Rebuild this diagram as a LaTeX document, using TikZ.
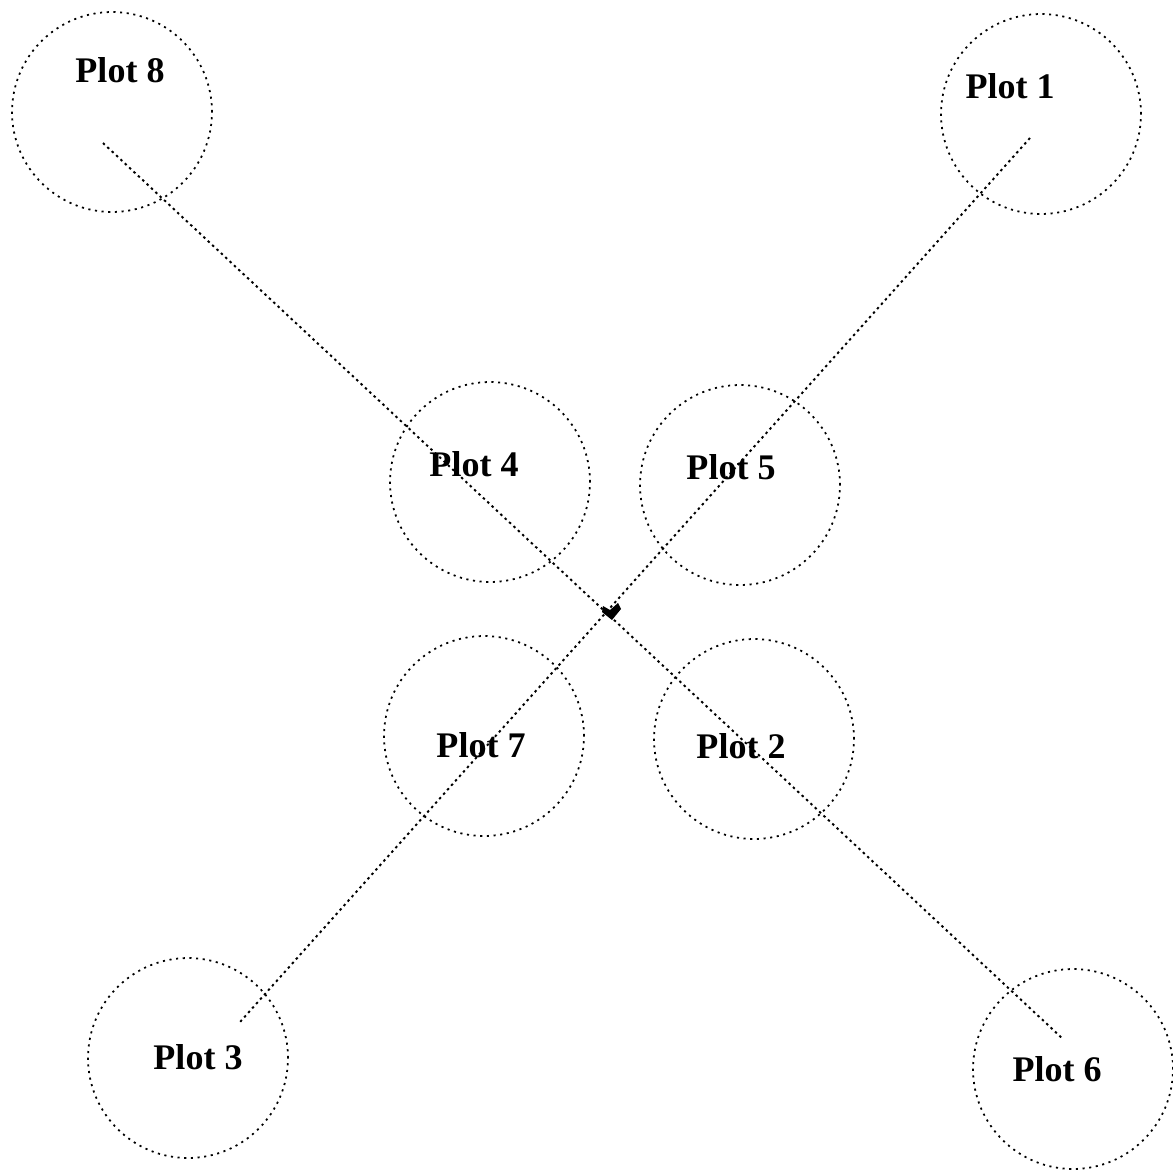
\documentclass[tikz,border=0pt]{standalone}
\usepackage{fontspec}
\setmainfont{Liberation Serif}

\begin{document}
\begin{tikzpicture}[x=0.02cm, y=-0.02cm,
    plot/.style={draw, circle, line width=1pt, dash pattern=on 1.2pt off 2.6pt, minimum size=4cm, inner sep=0pt},
    tag/.style={font=\fontsize{20.5}{24}\selectfont\bfseries, inner sep=0pt},
    transect/.style={line width=1.1pt, dash pattern=on 1.4pt off 2pt}]
    \useasboundingbox (0,0) rectangle (1173,1170);

    % Outer plots at the four ends
    \node[plot] (p8) at (112,112) {};
    \node[plot] (p1) at (1041,114) {};
    \node[plot] (p3) at (188,1058) {};
    \node[plot] (p6) at (1073,1069) {};

    % Inner plots round the centre
    \node[plot] (p4) at (490,482) {};
    \node[plot] (p5) at (740,485) {};
    \node[plot] (p7) at (484,736) {};
    \node[plot] (p2) at (754,739) {};

    % Plot labels
    \node[tag] (l8) at (120,70) {Plot 8};
    \node[tag] (l1) at (1010,86) {Plot 1};
    \node[tag] (l3) at (198,1057) {Plot 3};
    \node[tag] (l6) at (1057,1069) {Plot 6};
    \node[tag] (l4) at (474,464) {Plot 4};
    \node[tag] (l5) at (731,467) {Plot 5};
    \node[tag] (l7) at (481,745) {Plot 7};
    \node[tag] (l2) at (741,746) {Plot 2};

    % Transect ends
    \coordinate (e8) at (103,143);
    \coordinate (e6) at (1063,1039);
    \coordinate (e1) at (1030,138);
    \coordinate (e3) at (240,1022);

    % Transects
    \draw[transect] (e8) -- (e6);
    \draw[transect] (e1) -- (e3);

    % Centre mark
    \node[inner sep=0pt] (centre) at (612,612) {};
    \fill ([shift={(-9,-6)}]centre.center) -- ([shift={(-2,-2)}]centre.center) -- ([shift={(6,-9)}]centre.center)
        -- ([shift={(9,-3)}]centre.center) -- ([shift={(0,8)}]centre.center) -- ([shift={(-10,0)}]centre.center) -- cycle;
  \end{tikzpicture}
\end{document}
